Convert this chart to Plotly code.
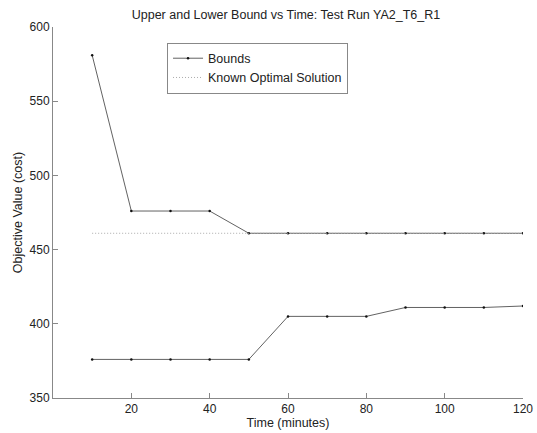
import plotly.graph_objects as go

time_min = [10, 20, 30, 40, 50, 60, 70, 80, 90, 100, 110, 120]
upper_bound = [581, 476, 476, 476, 461, 461, 461, 461, 461, 461, 461, 461]
lower_bound = [376, 376, 376, 376, 376, 405, 405, 405, 411, 411, 411, 412]
optimal_value = 461
x_ticks = [20, 40, 60, 80, 100, 120]
y_ticks = [350, 400, 450, 500, 550, 600]

font_family = "Arial, Liberation Sans, Helvetica, sans-serif"
line_col = "#3a3a3a"

fig = go.Figure()
fig.add_trace(go.Scatter(
    x=time_min, y=upper_bound, mode="lines+markers", name="Bounds",
    line=dict(color=line_col, width=0.8), marker=dict(color="#111111", size=2.5),
    legendgroup="b"))
fig.add_trace(go.Scatter(
    x=[time_min[0], time_min[-1]], y=[optimal_value, optimal_value], mode="lines",
    name="Known Optimal Solution",
    line=dict(color="#aaaaaa", width=1, dash="1px,2px")))
fig.add_trace(go.Scatter(
    x=time_min, y=lower_bound, mode="lines+markers", name="Bounds",
    line=dict(color=line_col, width=0.8), marker=dict(color="#111111", size=2.5),
    legendgroup="b", showlegend=False))

fig.update_layout(
    width=537, height=433,
    margin=dict(l=53, r=14, t=27, b=35, autoexpand=False),
    paper_bgcolor="white", plot_bgcolor="white",
    font=dict(family=font_family, size=12, color="#222222"),
    title=dict(text="Upper and Lower Bound vs Time: Test Run YA2_T6_R1",
               x=0.5326, xanchor="center", y=0.967, yanchor="middle",
               font=dict(size=12.5)),
    showlegend=True,
    legend=dict(x=0.2426, y=0.958, xanchor="left", yanchor="top",
                bordercolor="#888888", borderwidth=1, bgcolor="white",
                font=dict(size=12.5), tracegroupgap=0, itemwidth=30),
    xaxis=dict(range=[0, 120], tickvals=x_ticks, ticks="inside", ticklen=5,
               tickcolor="#888888", showline=True, linecolor="#888888", linewidth=1,
               showgrid=False, zeroline=False, automargin=False,
               title=dict(text="Time (minutes)", standoff=0, font=dict(size=12.5))),
    yaxis=dict(range=[350, 600], tickvals=y_ticks, ticks="inside", ticklen=5,
               tickcolor="#888888", showline=True, linecolor="#888888", linewidth=1,
               showgrid=False, zeroline=False, automargin=False,
               title=dict(text="Objective Value (cost)", standoff=4, font=dict(size=12.5))),
)

fig.write_html("out.html")
